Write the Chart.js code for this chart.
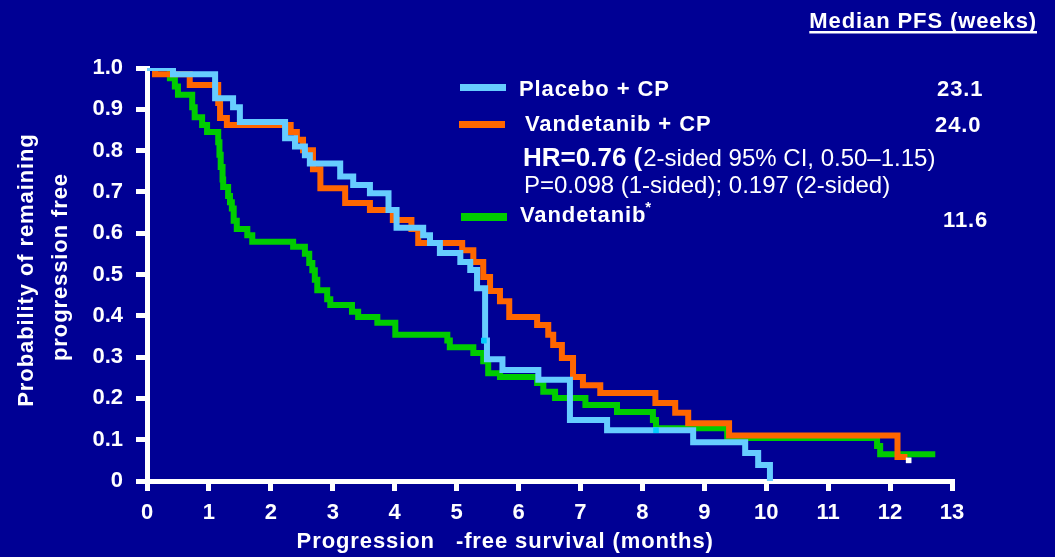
<!DOCTYPE html>
<html>
<head>
<meta charset="utf-8">
<title>Progression-free survival</title>
<script src="https://cdn.jsdelivr.net/npm/chart.js@4.4.1/dist/chart.umd.min.js"></script>
<style>
  html, body { margin: 0; padding: 0; background: #000094; }
  #wrap { position: relative; width: 1055px; height: 557px; }
</style>
</head>
<body>
<div id="wrap"><canvas id="km" width="1055" height="557"></canvas></div>
<script>
// Kaplan-Meier steps: time (months) of each event and the survival value after it
const placeboTimes = [0, 0.42, 1.10, 1.39, 1.50, 2.23, 2.39, 2.55, 2.63, 3.12, 3.33, 3.60, 3.90, 4.03, 4.46, 4.57, 4.73, 5.06, 5.22, 5.33, 5.46, 5.49, 5.74, 6.32, 6.83, 7.43, 8.82, 9.66, 9.87, 10.06];
const placeboSurv  = [1.0, 0.985, 0.927, 0.905, 0.869, 0.830, 0.810, 0.789, 0.769, 0.737, 0.717, 0.697, 0.656, 0.613, 0.595, 0.576, 0.552, 0.530, 0.511, 0.467, 0.340, 0.295, 0.269, 0.245, 0.148, 0.123, 0.094, 0.068, 0.039, 0.0];

const vandCpTimes = [0, 0.13, 0.69, 1.15, 1.18, 1.29, 2.32, 2.42, 2.52, 2.68, 2.80, 3.20, 3.60, 3.97, 4.27, 4.38, 5.09, 5.27, 5.43, 5.54, 5.70, 5.85, 6.30, 6.48, 6.56, 6.70, 6.88, 7.04, 7.32, 8.21, 8.53, 8.74, 9.40, 12.12, 12.28];
const vandCpSurv  = [1.0, 0.985, 0.959, 0.915, 0.879, 0.862, 0.845, 0.826, 0.801, 0.755, 0.709, 0.673, 0.656, 0.632, 0.610, 0.576, 0.559, 0.530, 0.494, 0.460, 0.435, 0.397, 0.378, 0.354, 0.329, 0.298, 0.252, 0.232, 0.213, 0.189, 0.165, 0.140, 0.110, 0.058, 0.058];

const vandTimes = [0, 0.37, 0.45, 0.50, 0.73, 0.77, 0.89, 0.97, 1.15, 1.17, 1.19, 1.22, 1.23, 1.31, 1.34, 1.37, 1.40, 1.45, 1.62, 1.70, 2.36, 2.55, 2.62, 2.67, 2.71, 2.75, 2.91, 2.96, 3.31, 3.41, 3.72, 4.01, 4.85, 4.89, 5.27, 5.43, 5.51, 5.70, 6.30, 6.40, 6.59, 7.08, 7.59, 8.17, 8.22, 9.37, 11.79, 11.84, 12.73];
const vandSurv  = [1.0, 0.975, 0.955, 0.935, 0.905, 0.881, 0.862, 0.845, 0.820, 0.790, 0.760, 0.730, 0.712, 0.690, 0.675, 0.660, 0.630, 0.610, 0.595, 0.579, 0.567, 0.550, 0.528, 0.510, 0.487, 0.462, 0.440, 0.426, 0.410, 0.397, 0.383, 0.354, 0.340, 0.324, 0.310, 0.290, 0.261, 0.252, 0.237, 0.216, 0.201, 0.184, 0.167, 0.148, 0.128, 0.104, 0.085, 0.065, 0.065];

// censored observations shown as small blocks
const placeboCensorTimes = [5.44, 8.22];
const placeboCensorSurv  = [0.34, 0.123];
const vandCpCensorTimes  = [12.30];
const vandCpCensorSurv   = [0.050];

// legend rows: name and median PFS in weeks
const seriesNames   = ['Placebo + CP', 'Vandetanib + CP', 'Vandetanib'];
const medianWeeks   = ['23.1', '24.0', '11.6'];
const seriesColors  = ['#66ccff', '#ff6600', '#00cc00'];
const hrText        = 'HR=0.76 (';
const ciText        = '2-sided 95% CI, 0.50\u20131.15)';
const pText         = 'P=0.098 (1-sided); 0.197 (2-sided)';

// axis labelling
const xMax = 13;
const yTickLabels = ['0', '0.1', '0.2', '0.3', '0.4', '0.5', '0.6', '0.7', '0.8', '0.9', '1.0'];
const yTitleLines = ['Probability of remaining', 'progression free'];
const xTitle = 'Progression   -free survival (months)';
const medianHeader = 'Median PFS (weeks)';

const FONT = '"Liberation Sans", Arial, Helvetica, sans-serif';
const pts = (t, s) => t.map((v, i) => ({ x: v, y: s[i] }));

function put(ctx, str, x, y, size, weight, spacing, align) {
  ctx.font = `${weight} ${size}px ${FONT}`;
  ctx.letterSpacing = spacing + 'px';
  ctx.textAlign = align || 'left';
  ctx.textBaseline = 'alphabetic';
  ctx.fillText(str, x, y);
  return ctx.measureText(str).width;
}

const annotations = {
  id: 'kmAnnotations',
  afterDraw(chart) {
    const ctx = chart.ctx;
    ctx.save();
    ctx.fillStyle = '#ffffff';

    // header with underline
    const w = put(ctx, medianHeader, 1037, 28, 22, 'bold', 0.9, 'right');
    ctx.fillRect(1037 - w, 31, w, 2.5);

    // legend swatches
    ctx.fillStyle = seriesColors[0]; ctx.fillRect(460, 84, 46, 7);
    ctx.fillStyle = seriesColors[1]; ctx.fillRect(459, 121, 46, 7);
    ctx.fillStyle = seriesColors[2]; ctx.fillRect(461, 213, 46, 8);

    ctx.fillStyle = '#ffffff';
    put(ctx, seriesNames[0], 519, 96, 22, 'bold', 0.9);
    put(ctx, seriesNames[1], 525, 131, 22, 'bold', 0.9);
    const vw = put(ctx, seriesNames[2], 520, 222, 22, 'bold', 0.9);
    put(ctx, '*', 520 + vw - 1, 212, 15, 'bold', 0);

    put(ctx, medianWeeks[0], 937, 96, 22, 'bold', 0.9);
    put(ctx, medianWeeks[1], 935, 132, 22, 'bold', 0.9);
    put(ctx, medianWeeks[2], 943, 227, 22, 'bold', 0.9);

    const hw = put(ctx, hrText, 523, 166, 26, 'bold', 0);
    put(ctx, ciText, 523 + hw + 1, 166, 24, 'normal', 0);
    put(ctx, pText, 524, 193, 24, 'normal', 0);

    // axis titles
    const xs = chart.scales.x;
    put(ctx, xTitle, xs.getPixelForValue(2.4) + 1, 548, 22, 'bold', 0.9);

    ctx.save();
    ctx.translate(33, 270); ctx.rotate(-Math.PI / 2);
    put(ctx, yTitleLines[0], 0, 0, 22, 'bold', 0.9, 'center');
    ctx.restore();
    ctx.save();
    ctx.translate(67, 267); ctx.rotate(-Math.PI / 2);
    put(ctx, yTitleLines[1], 0, 0, 22, 'bold', 0.9, 'center');
    ctx.restore();

    ctx.restore();
  }
};

const stepLine = (data, color) => ({
  data,
  borderColor: color,
  backgroundColor: color,
  borderWidth: 6,
  stepped: true,
  pointRadius: 0,
  fill: false,
  borderJoinStyle: 'miter',
  borderCapStyle: 'butt'
});

const censorMarks = (data, color) => ({
  type: 'scatter',
  data,
  pointStyle: 'rect',
  pointRadius: 4,
  borderWidth: 0,
  backgroundColor: color,
  borderColor: color,
  showLine: false
});

new Chart(document.getElementById('km'), {
  type: 'line',
  data: {
    datasets: [
      censorMarks(pts(placeboCensorTimes, placeboCensorSurv), '#00ccff'),
      censorMarks(pts(vandCpCensorTimes, vandCpCensorSurv), '#ffffff'),
      stepLine(pts(placeboTimes, placeboSurv), seriesColors[0]),
      stepLine(pts(vandCpTimes, vandCpSurv), seriesColors[1]),
      stepLine(pts(vandTimes, vandSurv), seriesColors[2])
    ]
  },
  options: {
    responsive: false,
    devicePixelRatio: 1,
    animation: false,
    layout: { padding: { left: 0, top: 68, right: 103, bottom: 0 } },
    plugins: { legend: { display: false }, tooltip: { enabled: false } },
    scales: {
      x: {
        type: 'linear',
        min: 0, max: xMax,
        afterFit: s => { s.height = 76; },
        border: { display: true, color: '#ffffff', width: 5 },
        grid: { drawOnChartArea: false, drawTicks: true, tickLength: 10, color: '#ffffff', lineWidth: 5 },
        ticks: {
          stepSize: 1, padding: 9, color: '#ffffff',
          font: { family: FONT, size: 22, weight: 'bold' },
          maxRotation: 0, autoSkip: false
        }
      },
      y: {
        type: 'linear',
        min: 0, max: 1,
        afterFit: s => { s.width = 147; },
        border: { display: true, color: '#ffffff', width: 5 },
        grid: { drawOnChartArea: false, drawTicks: true, tickLength: 11, color: '#ffffff', lineWidth: 5 },
        ticks: {
          stepSize: 0.1, padding: 13, color: '#ffffff',
          font: { family: FONT, size: 22, weight: 'bold' },
          callback: (v, i) => yTickLabels[i]
        }
      }
    }
  },
  plugins: [annotations]
});
</script>
</body>
</html>
